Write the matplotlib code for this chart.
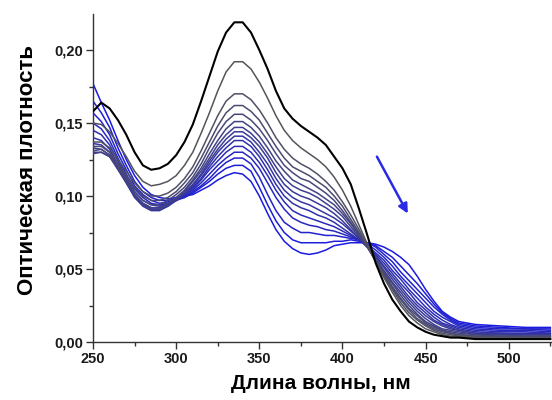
import numpy as np
import matplotlib.pyplot as plt
from matplotlib.ticker import MultipleLocator, FuncFormatter

plt.rcParams['font.family'] = ['Liberation Sans', 'DejaVu Sans']

# wavelength grid, nm
wavelength = list(range(250, 471, 5)) + [480, 495, 510, 525]

# optical density, first spectrum (black) -> last spectrum (blue)
spectra = [
    [.158, .164, .160, .152, .142, .130, .121, .118, .119, .122,
     .128, .137, .149, .165, .182, .199, .212, .219, .219, .212,
     .200, .187, .172, .160, .153, .148, .144, .140, .135, .127,
     .119, .108, .091, .073, .054, .040, .029, .021, .014, .010,
     .007, .005, .004, .003, .003, .002, .002, .002, .002],
    [.150, .149, .144, .136, .127, .117, .110, .107, .108, .110,
     .114, .121, .130, .143, .157, .172, .185, .192, .192, .187,
     .178, .167, .155, .145, .138, .133, .129, .125, .120, .113,
     .104, .093, .080, .067, .055, .044, .034, .025, .018, .013,
     .009, .007, .005, .004, .004, .003, .003, .003, .003],
    [.137, .137, .133, .125, .117, .109, .103, .100, .100, .102,
     .106, .112, .120, .131, .143, .155, .165, .170, .170, .166,
     .159, .150, .140, .132, .126, .122, .119, .115, .110, .104,
     .096, .087, .077, .066, .055, .045, .036, .027, .020, .015,
     .011, .008, .006, .005, .004, .003, .003, .003, .003],
    [.134, .134, .130, .122, .114, .106, .100, .097, .097, .099,
     .103, .109, .116, .126, .137, .148, .157, .162, .162, .158,
     .152, .143, .134, .126, .120, .117, .114, .110, .106, .100,
     .093, .084, .075, .065, .055, .046, .037, .029, .022, .016,
     .012, .009, .007, .006, .005, .004, .003, .003, .003],
    [.131, .132, .128, .120, .112, .103, .097, .094, .094, .097,
     .101, .106, .113, .122, .133, .143, .151, .156, .156, .152,
     .146, .138, .129, .121, .116, .112, .110, .106, .102, .097,
     .090, .082, .074, .065, .056, .047, .038, .030, .023, .018,
     .013, .010, .008, .006, .005, .004, .004, .004, .004],
    [.129, .130, .127, .119, .110, .101, .095, .092, .092, .095,
     .099, .104, .111, .119, .129, .138, .146, .151, .151, .147,
     .141, .133, .124, .117, .111, .108, .105, .102, .098, .094,
     .088, .081, .073, .065, .056, .048, .040, .032, .025, .019,
     .014, .011, .008, .007, .006, .005, .004, .004, .004],
    [.130, .130, .127, .118, .109, .100, .094, .091, .091, .094,
     .098, .103, .110, .117, .126, .135, .142, .147, .147, .143,
     .137, .129, .120, .112, .107, .104, .102, .099, .095, .091,
     .086, .079, .072, .065, .057, .049, .041, .034, .027, .021,
     .016, .012, .009, .008, .007, .005, .005, .004, .004],
    [.133, .132, .128, .119, .109, .099, .093, .090, .090, .093,
     .097, .102, .108, .115, .124, .132, .139, .144, .144, .140,
     .134, .126, .116, .108, .103, .100, .098, .095, .092, .088,
     .083, .077, .071, .065, .058, .051, .043, .036, .029, .023,
     .018, .014, .011, .009, .008, .006, .005, .005, .005],
    [.136, .135, .130, .120, .110, .100, .094, .091, .091, .093,
     .097, .101, .107, .114, .122, .130, .136, .141, .141, .137,
     .130, .122, .112, .104, .099, .096, .094, .091, .088, .085,
     .081, .076, .071, .065, .059, .052, .045, .038, .031, .025,
     .020, .015, .012, .010, .008, .006, .006, .005, .005],
    [.140, .138, .132, .122, .111, .101, .095, .092, .092, .094,
     .097, .101, .106, .112, .120, .127, .133, .138, .138, .134,
     .127, .118, .108, .100, .095, .092, .090, .087, .085, .082,
     .078, .074, .070, .065, .060, .054, .047, .040, .034, .027,
     .022, .017, .013, .011, .009, .007, .006, .006, .006],
    [.145, .142, .135, .124, .113, .103, .097, .094, .093, .095,
     .097, .101, .105, .111, .118, .124, .130, .134, .134, .130,
     .123, .114, .104, .096, .090, .087, .085, .083, .081, .079,
     .076, .073, .070, .066, .061, .056, .049, .043, .036, .030,
     .024, .019, .015, .012, .010, .008, .007, .007, .006],
    [.150, .146, .138, .126, .115, .105, .099, .095, .094, .095,
     .097, .100, .104, .109, .115, .121, .126, .130, .130, .126,
     .119, .109, .099, .091, .085, .082, .080, .079, .077, .076,
     .074, .072, .070, .067, .063, .058, .052, .045, .039, .033,
     .027, .021, .017, .014, .011, .009, .008, .008, .007],
    [.157, .151, .142, .129, .118, .107, .101, .097, .095, .096,
     .097, .099, .103, .107, .112, .118, .123, .126, .126, .122,
     .113, .101, .090, .082, .078, .075, .075, .074, .073, .073,
     .072, .071, .070, .068, .065, .060, .055, .048, .042, .036,
     .030, .024, .019, .015, .012, .010, .009, .009, .008],
    [.165, .157, .147, .133, .121, .110, .103, .099, .097, .097,
     .098, .099, .102, .106, .110, .115, .119, .121, .121, .117,
     .106, .094, .083, .075, .070, .068, .068, .068, .068, .069,
     .069, .070, .069, .068, .066, .062, .058, .052, .046, .040,
     .033, .026, .020, .016, .013, .011, .010, .009, .009],
    [.177, .164, .152, .138, .125, .114, .106, .101, .099, .098,
     .099, .100, .101, .104, .107, .111, .114, .116, .115, .110,
     .100, .088, .077, .069, .064, .061, .060, .061, .063, .066,
     .067, .068, .068, .068, .067, .065, .062, .058, .053, .045,
     .036, .028, .021, .017, .014, .012, .011, .010, .010],
]

# arrow showing the trend, data coords
arrow_start = (420.7, 0.127)
arrow_end = (439.3, 0.088)

fig = plt.figure(figsize=(5.52, 4.0), dpi=100)
ax = fig.add_axes([0.1685, 0.145, 0.8315, 0.82])

n = len(spectra)
gray = np.array([0.33, 0.33, 0.36])
blue = np.array([0.10, 0.10, 0.88])
for i, y in enumerate(spectra):
    if i == 0:
        c, lw = 'black', 1.5
    else:
        t = (i - 1) / (n - 2)
        c, lw = tuple((1 - t) * gray + t * blue), 1.1
    ax.plot(wavelength, y, color=c, lw=lw, zorder=n - i)

ax.annotate('', xy=arrow_end, xytext=arrow_start,
            arrowprops=dict(arrowstyle='-|>', color='#2a2ae6', lw=1.8,
                            mutation_scale=14, shrinkA=0, shrinkB=0))

ax.set_xlim(250, 526)
ax.set_ylim(0, 0.2247)
ax.xaxis.set_major_locator(MultipleLocator(50))
ax.xaxis.set_minor_locator(MultipleLocator(25))
ax.yaxis.set_major_locator(MultipleLocator(0.05))
ax.yaxis.set_minor_locator(MultipleLocator(0.025))
ax.yaxis.set_major_formatter(FuncFormatter(lambda v, p: f"{v:.2f}".replace('.', ',')))

for s in ['top', 'right']:
    ax.spines[s].set_visible(False)
for s in ['left', 'bottom']:
    ax.spines[s].set_color('#333333')
    ax.spines[s].set_linewidth(1.0)
ax.tick_params(which='major', direction='out', length=5, width=1, color='#333333',
               labelsize=10.5, pad=2, labelcolor='#1a1a1a')
ax.tick_params(which='minor', direction='out', length=3, width=1, color='#333333')
for lab in ax.get_xticklabels() + ax.get_yticklabels():
    lab.set_fontweight('bold')

ax.set_xlabel('Длина волны, нм', fontsize=15, fontweight='bold')
ax.set_ylabel('Оптическая плотность', fontsize=16, fontweight='bold')
ax.xaxis.set_label_coords(0.497, -0.098)
ax.yaxis.set_label_coords(-0.12, 0.524)

fig.savefig('out.png', dpi=100)
